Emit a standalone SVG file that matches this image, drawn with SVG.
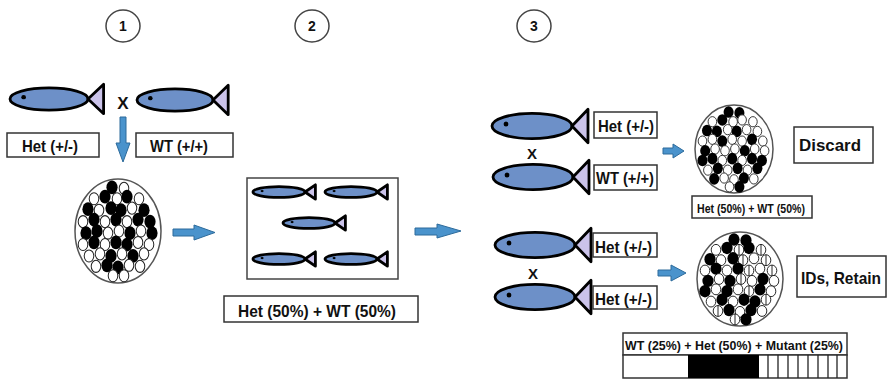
<svg xmlns="http://www.w3.org/2000/svg" xmlns:xlink="http://www.w3.org/1999/xlink" width="889" height="380" viewBox="0 0 889 380">
  <style>
    text { font-family: "Liberation Sans", Arial, sans-serif; font-weight: bold; fill: #111; }
    .lbl { fill: #fff; stroke: #333; stroke-width: 1.5; }
    .num { fill: #fff; stroke: #444; stroke-width: 1.5; }
    .body { fill: #6d90c8; stroke: #000; stroke-width: 2.8; vector-effect: non-scaling-stroke; }
    .tail { fill: #cbc3ea; stroke: #000; stroke-width: 2.8; stroke-linejoin: round; vector-effect: non-scaling-stroke; }
    .small .body, .small .tail { stroke-width: 1.9; }
    .arrow { fill: #4a93cc; stroke: #2d6b9b; stroke-width: 1; }
    .clutch { fill: #fff; stroke: #555; stroke-width: 1.5; }
    .tank { fill: #fff; stroke: #444; stroke-width: 1.5; }
  </style>
  <defs>
    <!-- fish: body ellipse, triangular tail, eye -->
    <g id="fish">
      <ellipse class="body" cx="0" cy="0" rx="40" ry="12"/>
      <polygon class="tail" points="40,0 56,-16 56,16"/>
      <ellipse cx="-26" cy="-2" rx="2.4" ry="2.4" fill="#000"/>
    </g>
    <!-- eggs: black, white, white with a vertical bar -->
    <ellipse id="B" cx="0" cy="0" rx="5.6" ry="6.6" fill="#000"/>
    <ellipse id="W" cx="0" cy="0" rx="4.8" ry="5.8" fill="#fff" stroke="#222" stroke-width="1"/>
    <g id="S">
      <ellipse cx="0" cy="0" rx="4.8" ry="5.8" fill="#fff" stroke="#222" stroke-width="1"/>
      <line x1="0" y1="-5.8" x2="0" y2="5.8" stroke="#222" stroke-width="1"/>
    </g>
  </defs>

  <!-- step numbers -->
  <g id="step1"><ellipse class="num" cx="123" cy="26" rx="17" ry="16"/><text x="123" y="31" font-size="14" text-anchor="middle">1</text></g>
  <g id="step2"><ellipse class="num" cx="312" cy="26" rx="17" ry="16"/><text x="312" y="31" font-size="14" text-anchor="middle">2</text></g>
  <g id="step3"><ellipse class="num" cx="534" cy="26" rx="17" ry="16"/><text x="534" y="31" font-size="14" text-anchor="middle">3</text></g>

  <!-- step 1: parent cross -->
  <g id="fish-het-1"><use href="#fish" transform="translate(49,99) scale(0.975,0.92)"/></g>
  <g id="cross-1"><text x="123" y="109" font-size="17" text-anchor="middle">X</text></g>
  <g id="fish-wt-1"><use href="#fish" transform="translate(175,100) scale(0.95,0.92)"/></g>
  <g id="label-het-1">
    <rect class="lbl" x="7" y="133" width="92" height="24"/>
    <text x="22" y="152" font-size="16" textLength="56" lengthAdjust="spacingAndGlyphs">Het (+/-)</text>
  </g>
  <g id="label-wt-1">
    <rect class="lbl" x="136" y="133" width="97" height="24"/>
    <text x="150" y="152" font-size="16" textLength="58" lengthAdjust="spacingAndGlyphs">WT (+/+)</text>
  </g>

  <!-- step 1 clutch -->
  <g id="clutch-1">
    <ellipse class="clutch" cx="118" cy="231" rx="43" ry="52"/>
    <g transform="translate(118,231) scale(1,1.04)">
      <use href="#B" x="-6" y="-42"/><use href="#W" x="6" y="-41"/>
      <use href="#W" x="-24" y="-31"/><use href="#B" x="-13" y="-33"/><use href="#W" x="-1" y="-31"/><use href="#B" x="9" y="-33"/><use href="#W" x="21" y="-31"/>
      <use href="#B" x="-30" y="-21"/><use href="#W" x="-19" y="-20"/><use href="#B" x="-7" y="-22"/><use href="#B" x="3" y="-20"/><use href="#W" x="14" y="-22"/><use href="#B" x="26" y="-20"/>
      <use href="#W" x="-35" y="-9"/><use href="#B" x="-24" y="-11"/><use href="#W" x="-13" y="-9"/><use href="#B" x="-2" y="-11"/><use href="#W" x="9" y="-9"/><use href="#B" x="20" y="-11"/><use href="#B" x="32" y="-9"/>
      <use href="#B" x="-32" y="2"/><use href="#B" x="-21" y="0"/><use href="#W" x="-10" y="2"/><use href="#W" x="1" y="0"/><use href="#B" x="12" y="2"/><use href="#W" x="23" y="0"/><use href="#B" x="34" y="2"/>
      <use href="#W" x="-35" y="13"/><use href="#B" x="-24" y="11"/><use href="#W" x="-13" y="13"/><use href="#B" x="-2" y="11"/><use href="#B" x="9" y="13"/><use href="#W" x="20" y="11"/><use href="#W" x="31" y="13"/>
      <use href="#W" x="-29" y="24"/><use href="#W" x="-18" y="22"/><use href="#B" x="-7" y="24"/><use href="#W" x="4" y="22"/><use href="#B" x="15" y="24"/><use href="#W" x="26" y="22"/>
      <use href="#W" x="-22" y="34"/><use href="#B" x="-11" y="33"/><use href="#B" x="0" y="35"/><use href="#W" x="11" y="33"/><use href="#W" x="22" y="34"/>
      <use href="#W" x="-5" y="43"/><use href="#W" x="6" y="43"/>
    </g>
  </g>

  <!-- step 2: raised offspring tank -->
  <g id="tank">
    <rect class="tank" x="247" y="178" width="151" height="101"/>
    <g class="small">
      <use href="#fish" transform="translate(279,192) scale(0.65,0.45)"/>
      <use href="#fish" transform="translate(351,192) scale(0.65,0.45)"/>
      <use href="#fish" transform="translate(309,223) scale(0.65,0.45)"/>
      <use href="#fish" transform="translate(279,259) scale(0.65,0.45)"/>
      <use href="#fish" transform="translate(351,259) scale(0.65,0.45)"/>
    </g>
  </g>
  <g id="label-tank">
    <rect class="lbl" x="224" y="296" width="194" height="26"/>
    <text x="238" y="317" font-size="17" textLength="158" lengthAdjust="spacingAndGlyphs">Het (50%) + WT (50%)</text>
  </g>

  <!-- step 3: test crosses -->
  <g id="fish-a1"><use href="#fish" transform="translate(532,126) scale(1,1.05)"/></g>
  <g id="label-a1">
    <rect class="lbl" x="594" y="112" width="63" height="26"/>
    <text x="598" y="132" font-size="16" textLength="56" lengthAdjust="spacingAndGlyphs">Het (+/-)</text>
  </g>
  <g id="cross-a"><text x="532" y="159" font-size="15" text-anchor="middle">X</text></g>
  <g id="fish-a2"><use href="#fish" transform="translate(533,177) scale(1,1.05)"/></g>
  <g id="label-a2">
    <rect class="lbl" x="594" y="165" width="63" height="25"/>
    <text x="596" y="184" font-size="16" textLength="58" lengthAdjust="spacingAndGlyphs">WT (+/+)</text>
  </g>

  <g id="clutch-2">
    <ellipse class="clutch" cx="734" cy="149" rx="39" ry="44"/>
    <g transform="translate(734,149) scale(0.9,0.88)">
      <use href="#B" x="-6" y="-42"/><use href="#B" x="6" y="-41"/>
      <use href="#W" x="-24" y="-31"/><use href="#B" x="-13" y="-33"/><use href="#W" x="-1" y="-31"/><use href="#W" x="9" y="-33"/><use href="#W" x="21" y="-31"/>
      <use href="#B" x="-30" y="-21"/><use href="#B" x="-19" y="-20"/><use href="#W" x="-7" y="-22"/><use href="#B" x="3" y="-20"/><use href="#W" x="14" y="-22"/><use href="#W" x="26" y="-20"/>
      <use href="#W" x="-35" y="-9"/><use href="#W" x="-24" y="-11"/><use href="#B" x="-13" y="-9"/><use href="#W" x="-2" y="-11"/><use href="#W" x="9" y="-9"/><use href="#B" x="20" y="-11"/><use href="#W" x="32" y="-9"/>
      <use href="#B" x="-32" y="2"/><use href="#W" x="-21" y="0"/><use href="#W" x="-10" y="2"/><use href="#W" x="1" y="0"/><use href="#B" x="12" y="2"/><use href="#W" x="23" y="0"/><use href="#W" x="34" y="2"/>
      <use href="#B" x="-35" y="13"/><use href="#B" x="-24" y="11"/><use href="#W" x="-13" y="13"/><use href="#B" x="-2" y="11"/><use href="#W" x="9" y="13"/><use href="#B" x="20" y="11"/><use href="#B" x="31" y="13"/>
      <use href="#W" x="-29" y="24"/><use href="#B" x="-18" y="22"/><use href="#W" x="-7" y="24"/><use href="#B" x="4" y="22"/><use href="#W" x="15" y="24"/><use href="#B" x="26" y="22"/>
      <use href="#B" x="-22" y="34"/><use href="#W" x="-11" y="33"/><use href="#W" x="0" y="35"/><use href="#B" x="11" y="33"/><use href="#W" x="22" y="34"/>
      <use href="#W" x="-5" y="43"/><use href="#B" x="6" y="43"/>
    </g>
  </g>
  <g id="label-discard">
    <rect class="lbl" x="794" y="127" width="79" height="36"/>
    <text x="799" y="151" font-size="17" textLength="62" lengthAdjust="spacingAndGlyphs">Discard</text>
  </g>
  <g id="label-clutch-2">
    <rect class="lbl" x="692" y="196" width="120" height="22"/>
    <text x="697" y="213" font-size="12.5" textLength="108" lengthAdjust="spacingAndGlyphs">Het (50%) + WT (50%)</text>
  </g>

  <g id="fish-b1"><use href="#fish" transform="translate(535,245) scale(1,1.05)"/></g>
  <g id="label-b1">
    <rect class="lbl" x="593" y="233" width="64" height="24"/>
    <text x="595" y="253" font-size="16" textLength="57" lengthAdjust="spacingAndGlyphs">Het (+/-)</text>
  </g>
  <g id="cross-b"><text x="533" y="279" font-size="15" text-anchor="middle">X</text></g>
  <g id="fish-b2"><use href="#fish" transform="translate(535,297) scale(1,1.05)"/></g>
  <g id="label-b2">
    <rect class="lbl" x="593" y="286" width="64" height="23"/>
    <text x="595" y="305" font-size="16" textLength="57" lengthAdjust="spacingAndGlyphs">Het (+/-)</text>
  </g>

  <g id="clutch-3">
    <ellipse class="clutch" cx="740" cy="279" rx="43" ry="47"/>
    <g transform="translate(740,279) scale(1,0.94)">
      <use href="#B" x="-6" y="-42"/><use href="#B" x="6" y="-41"/>
      <use href="#W" x="-24" y="-31"/><use href="#B" x="-13" y="-33"/><use href="#S" x="-1" y="-31"/><use href="#B" x="9" y="-33"/><use href="#S" x="21" y="-31"/>
      <use href="#B" x="-30" y="-21"/><use href="#W" x="-19" y="-20"/><use href="#B" x="-7" y="-22"/><use href="#S" x="3" y="-20"/><use href="#W" x="14" y="-22"/><use href="#S" x="26" y="-20"/>
      <use href="#W" x="-35" y="-9"/><use href="#B" x="-24" y="-11"/><use href="#W" x="-13" y="-9"/><use href="#B" x="-2" y="-11"/><use href="#S" x="9" y="-9"/><use href="#W" x="20" y="-11"/><use href="#S" x="32" y="-9"/>
      <use href="#B" x="-32" y="2"/><use href="#W" x="-21" y="0"/><use href="#B" x="-10" y="2"/><use href="#S" x="1" y="0"/><use href="#W" x="12" y="2"/><use href="#B" x="23" y="0"/><use href="#W" x="34" y="2"/>
      <use href="#B" x="-35" y="13"/><use href="#W" x="-24" y="11"/><use href="#B" x="-13" y="13"/><use href="#W" x="-2" y="11"/><use href="#S" x="9" y="13"/><use href="#B" x="20" y="11"/><use href="#W" x="31" y="13"/>
      <use href="#W" x="-29" y="24"/><use href="#B" x="-18" y="22"/><use href="#W" x="-7" y="24"/><use href="#B" x="4" y="22"/><use href="#B" x="15" y="24"/><use href="#S" x="26" y="22"/>
      <use href="#S" x="-22" y="34"/><use href="#B" x="-11" y="33"/><use href="#W" x="0" y="35"/><use href="#B" x="11" y="33"/><use href="#W" x="22" y="34"/>
      <use href="#S" x="-5" y="43"/><use href="#B" x="6" y="43"/>
    </g>
  </g>
  <g id="label-retain">
    <rect class="lbl" x="797" y="256" width="89" height="41"/>
    <text x="801" y="284" font-size="17" textLength="80" lengthAdjust="spacingAndGlyphs">IDs, Retain</text>
  </g>
  <g id="label-clutch-3">
    <rect class="lbl" x="623" y="333" width="224" height="22"/>
    <text x="625" y="350" font-size="13" textLength="218" lengthAdjust="spacingAndGlyphs">WT (25%) + Het (50%) + Mutant (25%)</text>
  </g>
  <!-- genotype ratio bar -->
  <g id="ratio-bar">
    <rect x="623" y="355" width="224" height="23" fill="#fff" stroke="#333" stroke-width="1.5"/>
    <rect x="688" y="355" width="71" height="23" fill="#000"/>
    <g stroke="#222" stroke-width="1.3">
      <line x1="768" y1="355" x2="768" y2="378"/><line x1="778" y1="355" x2="778" y2="378"/>
      <line x1="788" y1="355" x2="788" y2="378"/><line x1="798" y1="355" x2="798" y2="378"/>
      <line x1="808" y1="355" x2="808" y2="378"/><line x1="818" y1="355" x2="818" y2="378"/>
      <line x1="828" y1="355" x2="828" y2="378"/><line x1="837" y1="355" x2="837" y2="378"/>
    </g>
  </g>

  <!-- connectors -->
  <g id="connectors">
    <path class="arrow" d="M120,117 H126 V143 H130 L123,162 L116,143 H120 Z"/>
    <path class="arrow" d="M173,229 H194 V225 L215,232.5 L194,240 V236 H173 Z"/>
    <path class="arrow" d="M415,228 H437 V224 L461,231 L437,238 V235 H415 Z"/>
    <path class="arrow" d="M663,148 H673 V144 L684,151 L673,158 V154 H663 Z"/>
    <path class="arrow" d="M658,270 H671 V265 L686,273 L671,281 V276 H658 Z"/>
  </g>
</svg>
